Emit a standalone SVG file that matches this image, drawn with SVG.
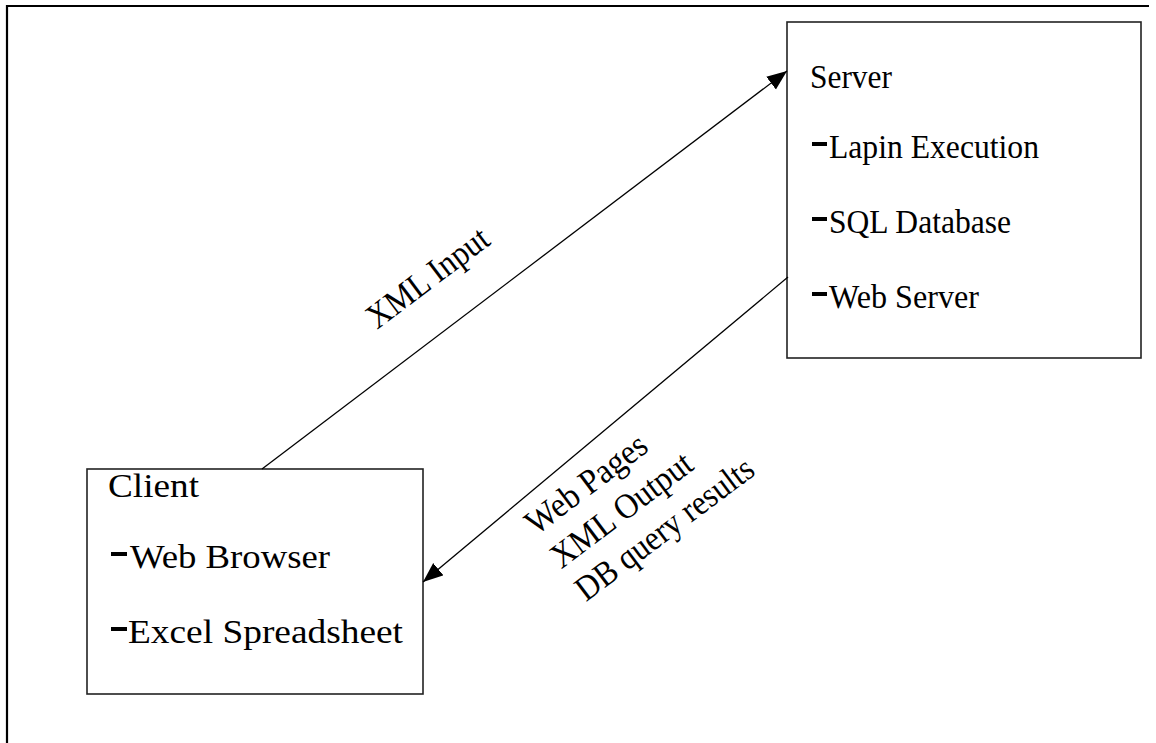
<svg xmlns="http://www.w3.org/2000/svg" width="1156" height="743" viewBox="0 0 1156 743">
  <defs>
    <marker id="arrow" markerUnits="userSpaceOnUse" markerWidth="24" markerHeight="20" refX="20" refY="8" orient="auto">
      <path d="M0,0 L20,8 L0,16 z" fill="#000"/>
    </marker>
  </defs>
  <style>
    .t { font-family: "Liberation Serif", "Times New Roman", serif; font-size: 33px; fill: #000; }
    .r { font-size: 35px; }
    .box { fill: #fff; stroke: #222; stroke-width: 1.6; }
    .conn { fill: none; stroke: #000; stroke-width: 1.3; }
    .bullet { fill: #000; }
  </style>
  <rect width="1156" height="743" fill="#fff"/>
  <polyline points="7,743 7,6 1149,6" fill="none" stroke="#000" stroke-width="2.2"/>

  <g id="server">
    <rect class="box" x="787" y="22" width="354" height="336"/>
    <text class="t" x="810" y="88" textLength="82" lengthAdjust="spacingAndGlyphs">Server</text>
    <rect class="bullet" x="812" y="142" width="15" height="4"/>
    <text class="t" x="829" y="158" textLength="210" lengthAdjust="spacingAndGlyphs">Lapin Execution</text>
    <rect class="bullet" x="812" y="217" width="15" height="4"/>
    <text class="t" x="829" y="233" textLength="182" lengthAdjust="spacingAndGlyphs">SQL Database</text>
    <rect class="bullet" x="812" y="292" width="15" height="4"/>
    <text class="t" x="829" y="308" textLength="150" lengthAdjust="spacingAndGlyphs">Web Server</text>
  </g>

  <g id="client">
    <rect class="box" x="87" y="469" width="336" height="225"/>
    <text class="t" x="108" y="497" textLength="91" lengthAdjust="spacingAndGlyphs">Client</text>
    <rect class="bullet" x="111" y="552" width="16" height="4"/>
    <text class="t" x="130" y="568" textLength="200" lengthAdjust="spacingAndGlyphs">Web Browser</text>
    <rect class="bullet" x="111" y="627" width="16" height="4"/>
    <text class="t" x="128" y="643" textLength="275" lengthAdjust="spacingAndGlyphs">Excel Spreadsheet</text>
  </g>

  <g id="connectors">
    <line class="conn" x1="262" y1="469" x2="787" y2="71" marker-end="url(#arrow)"/>
    <line class="conn" x1="788" y1="277" x2="423" y2="582" marker-end="url(#arrow)"/>
    <text class="t r" transform="translate(377,330) rotate(-37)" x="0" y="0" textLength="144" lengthAdjust="spacingAndGlyphs">XML Input</text>
    <g transform="translate(536,536) rotate(-37)">
      <text class="t r" x="0" y="0" textLength="143" lengthAdjust="spacingAndGlyphs">Web Pages</text>
      <text class="t r" x="0" y="42" textLength="168" lengthAdjust="spacingAndGlyphs">XML Output</text>
      <text class="t r" x="0" y="83" textLength="214" lengthAdjust="spacingAndGlyphs">DB query results</text>
    </g>
  </g>
</svg>
